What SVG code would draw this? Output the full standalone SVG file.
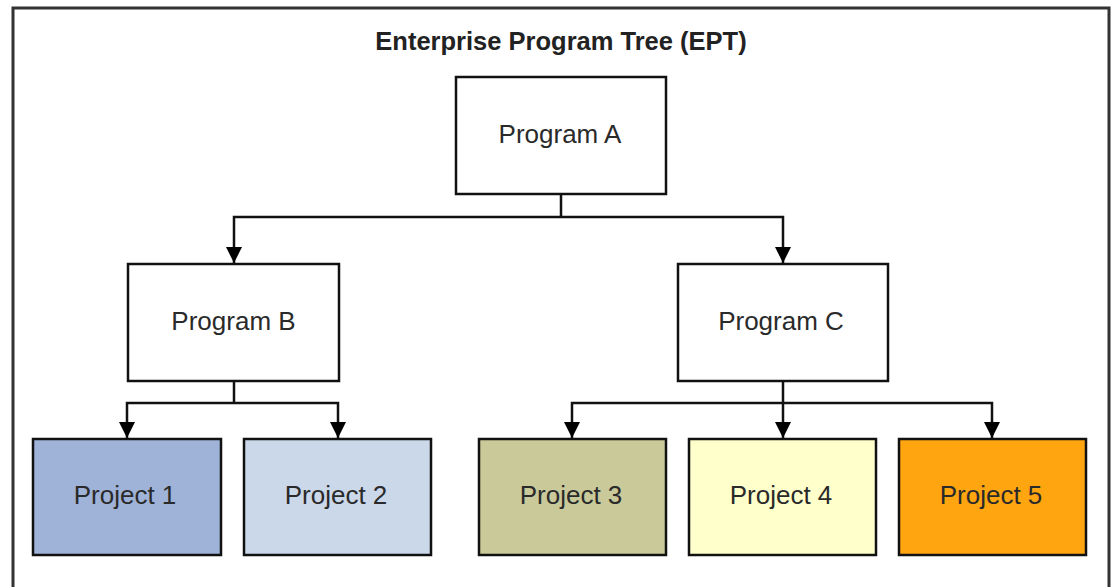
<svg xmlns="http://www.w3.org/2000/svg" width="1112" height="587" viewBox="0 0 1112 587">
<style>
.box{stroke:#111;stroke-width:2.5}
.lbl{font-family:"Liberation Sans",Arial,sans-serif;font-size:26px;fill:#2a2a2a;text-anchor:middle}
.ttl{font-family:"Liberation Sans",Arial,sans-serif;font-size:25.5px;font-weight:bold;fill:#222;text-anchor:middle}
.con{fill:none;stroke:#111;stroke-width:2.5}
</style>
<defs>
<marker id="ah" markerWidth="16" markerHeight="16" refX="16" refY="8" orient="auto" markerUnits="userSpaceOnUse" viewBox="0 0 16 16">
<path d="M0,0 L16,8 L0,16 Z" fill="#000"/>
</marker>
</defs>
<rect x="0" y="0" width="1112" height="587" fill="#fff"/>
<rect x="13" y="8" width="1096" height="600" fill="#fff" stroke="#333" stroke-width="3"/>
<text class="ttl" x="561" y="50">Enterprise Program Tree (EPT)</text>
<g id="connectors">
<path class="con" d="M561,194 V217"/>
<path class="con" d="M561,217 H234 V263" marker-end="url(#ah)"/>
<path class="con" d="M561,217 H783 V263" marker-end="url(#ah)"/>
<path class="con" d="M234,381 V403"/>
<path class="con" d="M234,403 H127 V438" marker-end="url(#ah)"/>
<path class="con" d="M234,403 H338 V438" marker-end="url(#ah)"/>
<path class="con" d="M783,381 V438" marker-end="url(#ah)"/>
<path class="con" d="M783,403 H572 V438" marker-end="url(#ah)"/>
<path class="con" d="M783,403 H992 V438" marker-end="url(#ah)"/>
</g>
<g id="programA"><rect class="box" x="456" y="77" width="210" height="117" fill="#fff"/><text class="lbl" x="560" y="143">Program A</text></g>
<g id="programB"><rect class="box" x="128" y="264" width="211" height="117" fill="#fff"/><text class="lbl" x="233.5" y="330">Program B</text></g>
<g id="programC"><rect class="box" x="678" y="264" width="210" height="117" fill="#fff"/><text class="lbl" x="781" y="330">Program C</text></g>
<g id="project1"><rect class="box" x="33" y="439" width="188" height="116" fill="#9fb3d9"/><text class="lbl" x="125" y="504">Project 1</text></g>
<g id="project2"><rect class="box" x="244" y="439" width="187" height="116" fill="#cbd8ea"/><text class="lbl" x="336" y="504">Project 2</text></g>
<g id="project3"><rect class="box" x="479" y="439" width="187" height="116" fill="#c9c99a"/><text class="lbl" x="571" y="504">Project 3</text></g>
<g id="project4"><rect class="box" x="689" y="439" width="187" height="116" fill="#ffffcc"/><text class="lbl" x="781" y="504">Project 4</text></g>
<g id="project5"><rect class="box" x="899" y="439" width="187" height="116" fill="#ffa510"/><text class="lbl" x="991" y="504">Project 5</text></g>
</svg>
